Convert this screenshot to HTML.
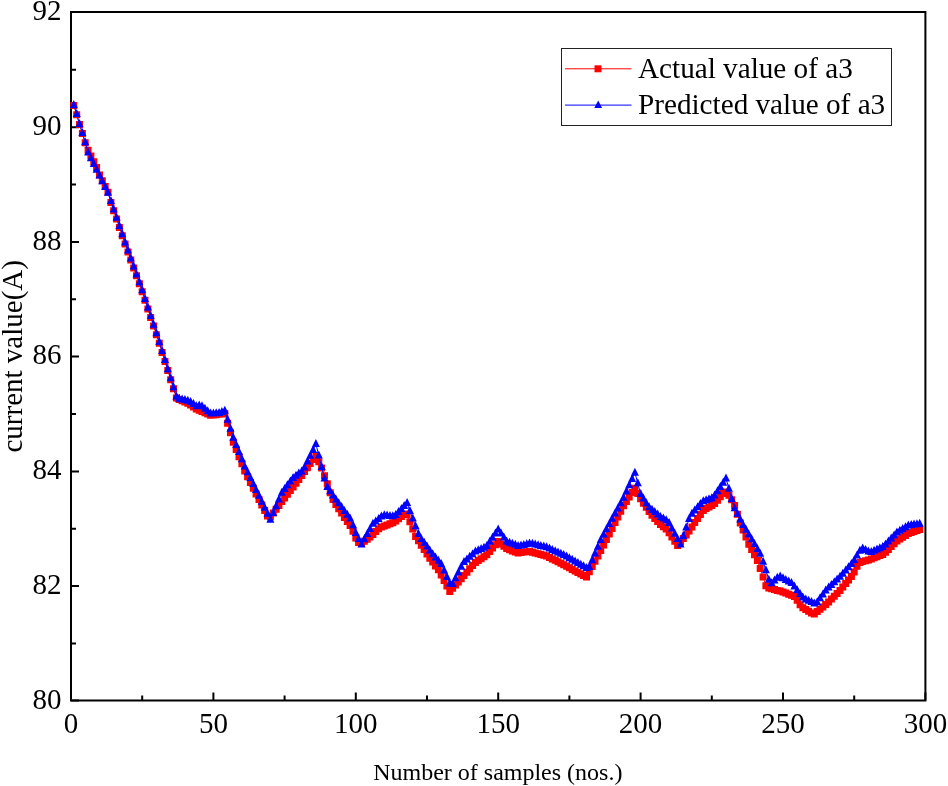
<!DOCTYPE html>
<html lang="en">
<head>
<meta charset="utf-8">
<title>Actual vs predicted value of a3</title>
<style>
html,body{margin:0;padding:0;background:#fff;}
body{width:948px;height:786px;overflow:hidden;}
svg{display:block;}
text{font-family:"Liberation Serif","Times New Roman",serif;fill:#000;}
.tick{font-size:29px;}
.leg{font-size:29.2px;}
.ylab{font-size:29px;}
.xlab{font-size:24px;}
</style>
</head>
<body>
<svg width="948" height="786" viewBox="0 0 948 786">
<rect x="0" y="0" width="948" height="786" fill="#fff"/>
<rect x="71" y="12" width="854.4" height="688.5" fill="none" stroke="#000" stroke-width="2"/>
<path fill="none" stroke="#000" stroke-width="2" d="M71 700.5h8.0M71 643.5h5.0M71 586.1h8.0M71 528.8h5.0M71 471.4h8.0M71 414.0h5.0M71 356.6h8.0M71 299.3h5.0M71 241.9h8.0M71 184.5h5.0M71 127.2h8.0M71 69.8h5.0M71 12.0h8.0M71.0 700.5v-8.0M142.2 700.5v-5.0M213.4 700.5v-8.0M284.6 700.5v-5.0M355.8 700.5v-8.0M427.0 700.5v-5.0M498.2 700.5v-8.0M569.4 700.5v-5.0M640.6 700.5v-8.0M711.8 700.5v-5.0M783.0 700.5v-8.0M854.2 700.5v-5.0M925.4 700.5v-8.0"/>
<polyline fill="none" stroke="#f00" stroke-width="1" points="73.8,105.5 76.7,114.7 79.5,124.5 82.4,133.6 85.2,142.8 88.1,150.3 90.9,156.0 93.8,161.7 96.6,167.5 99.5,174.9 102.3,180.7 105.2,186.4 108.0,192.2 110.9,202.5 113.7,210.8 116.6,219.1 119.4,227.4 122.3,235.8 125.1,244.1 128.0,252.0 130.8,260.0 133.7,267.9 136.5,275.8 139.4,283.8 142.2,291.7 145.0,300.3 147.9,308.9 150.7,317.5 153.6,326.1 156.4,334.7 159.3,343.3 162.1,352.4 165.0,361.5 167.8,370.6 170.7,379.7 173.5,388.8 176.4,398.1 179.2,399.4 182.1,400.7 184.9,402.0 187.8,403.2 190.6,404.9 193.5,407.0 196.3,409.0 199.2,410.3 202.0,411.6 204.9,412.8 207.7,414.1 210.6,415.3 213.4,415.0 216.2,414.7 219.1,414.3 221.9,414.0 224.8,413.6 227.6,423.2 230.5,432.7 233.3,442.3 236.2,449.5 239.0,456.7 241.9,463.8 244.7,471.0 247.6,476.7 250.4,482.5 253.3,488.2 256.1,494.0 259.0,499.5 261.8,505.0 264.7,510.4 267.5,515.9 270.4,516.7 273.2,512.9 276.1,509.2 278.9,505.4 281.8,501.6 284.6,497.9 287.4,494.2 290.3,490.6 293.1,486.9 296.0,483.2 298.8,479.4 301.7,475.5 304.5,471.6 307.4,467.7 310.2,463.6 313.1,459.6 315.9,455.5 318.8,461.8 321.6,468.1 324.5,475.7 327.3,483.8 330.2,492.8 333.0,499.4 335.9,504.5 338.7,508.8 341.6,513.1 344.4,517.4 347.3,521.4 350.1,525.4 353.0,531.3 355.8,537.9 358.6,542.5 361.5,543.4 364.3,541.3 367.2,539.2 370.0,537.0 372.9,534.4 375.7,531.5 378.6,528.7 381.4,527.0 384.3,526.0 387.1,524.9 390.0,523.8 392.8,522.7 395.7,521.1 398.5,518.7 401.4,516.4 404.2,514.0 407.1,514.5 409.9,521.8 412.8,529.1 415.6,536.4 418.5,540.8 421.3,545.2 424.2,549.6 427.0,554.0 429.8,558.2 432.7,562.0 435.5,565.9 438.4,569.7 441.2,575.1 444.1,580.6 446.9,586.0 449.8,591.5 452.6,588.3 455.5,585.1 458.3,582.0 461.2,578.8 464.0,575.6 466.9,572.2 469.7,568.8 472.6,565.5 475.4,562.4 478.3,560.6 481.1,558.7 484.0,556.8 486.8,554.7 489.7,551.4 492.5,548.1 495.4,544.8 498.2,541.6 501.0,543.9 503.9,546.3 506.7,548.6 509.6,549.7 512.4,550.9 515.3,552.0 518.1,553.0 521.0,552.6 523.8,552.1 526.7,551.7 529.5,551.4 532.4,552.2 535.2,552.9 538.1,553.7 540.9,554.4 543.8,555.2 546.6,555.9 549.5,557.4 552.3,558.9 555.2,560.3 558.0,561.8 560.9,563.3 563.7,564.8 566.6,566.3 569.4,567.8 572.2,569.4 575.1,570.9 577.9,572.5 580.8,574.0 583.6,575.6 586.5,577.1 589.3,571.8 592.2,566.5 595.0,561.2 597.9,555.9 600.7,550.4 603.6,544.9 606.4,539.4 609.3,533.9 612.1,528.4 615.0,522.6 617.8,516.9 620.7,511.2 623.5,505.8 626.4,501.4 629.2,497.0 632.1,492.6 634.9,488.2 637.8,493.5 640.6,498.7 643.4,503.3 646.3,507.3 649.1,511.4 652.0,515.2 654.8,518.4 657.7,521.6 660.5,524.4 663.4,526.8 666.2,529.1 669.1,532.7 671.9,537.0 674.8,541.3 677.6,545.6 680.5,542.0 683.3,538.5 686.2,534.9 689.0,531.1 691.9,526.9 694.7,522.6 697.6,518.5 700.4,514.5 703.3,510.4 706.1,508.6 709.0,507.1 711.8,505.5 714.6,503.6 717.5,500.2 720.3,496.8 723.2,493.4 726.0,492.0 728.9,495.2 731.7,499.7 734.6,505.4 737.4,514.3 740.3,522.9 743.1,530.0 746.0,537.1 748.8,544.2 751.7,549.6 754.5,554.7 757.4,560.4 760.2,568.6 763.1,576.9 765.9,585.7 768.8,588.1 771.6,588.8 774.5,589.6 777.3,590.4 780.2,591.1 783.0,592.0 785.8,593.1 788.7,594.2 791.5,595.3 794.4,596.4 797.2,600.2 800.1,604.7 802.9,607.8 805.8,609.6 808.6,611.3 811.5,613.0 814.3,614.0 817.2,611.6 820.0,609.3 822.9,606.9 825.7,604.6 828.6,601.9 831.4,599.1 834.3,596.2 837.1,593.4 840.0,590.6 842.8,587.0 845.7,583.5 848.5,579.9 851.4,576.4 854.2,572.0 857.0,566.2 859.9,562.5 862.7,561.6 865.6,560.7 868.4,559.9 871.3,558.9 874.1,557.8 877.0,556.7 879.8,555.6 882.7,554.5 885.5,552.2 888.4,549.4 891.2,546.6 894.1,543.8 896.9,541.0 899.8,539.1 902.6,537.3 905.5,535.4 908.3,533.5 911.2,532.5 914.0,531.5 916.9,530.5 919.7,529.5"/>
<path fill="#f00" d="M70.3 102.0h7.0v7.0h-7.0zM73.2 111.2h7.0v7.0h-7.0zM76.0 121.0h7.0v7.0h-7.0zM78.9 130.1h7.0v7.0h-7.0zM81.7 139.3h7.0v7.0h-7.0zM84.6 146.8h7.0v7.0h-7.0zM87.4 152.5h7.0v7.0h-7.0zM90.3 158.2h7.0v7.0h-7.0zM93.1 164.0h7.0v7.0h-7.0zM96.0 171.4h7.0v7.0h-7.0zM98.8 177.2h7.0v7.0h-7.0zM101.7 182.9h7.0v7.0h-7.0zM104.5 188.7h7.0v7.0h-7.0zM107.4 199.0h7.0v7.0h-7.0zM110.2 207.3h7.0v7.0h-7.0zM113.1 215.6h7.0v7.0h-7.0zM115.9 223.9h7.0v7.0h-7.0zM118.8 232.3h7.0v7.0h-7.0zM121.6 240.6h7.0v7.0h-7.0zM124.5 248.5h7.0v7.0h-7.0zM127.3 256.5h7.0v7.0h-7.0zM130.2 264.4h7.0v7.0h-7.0zM133.0 272.3h7.0v7.0h-7.0zM135.9 280.3h7.0v7.0h-7.0zM138.7 288.2h7.0v7.0h-7.0zM141.5 296.8h7.0v7.0h-7.0zM144.4 305.4h7.0v7.0h-7.0zM147.2 314.0h7.0v7.0h-7.0zM150.1 322.6h7.0v7.0h-7.0zM152.9 331.2h7.0v7.0h-7.0zM155.8 339.8h7.0v7.0h-7.0zM158.6 348.9h7.0v7.0h-7.0zM161.5 358.0h7.0v7.0h-7.0zM164.3 367.1h7.0v7.0h-7.0zM167.2 376.2h7.0v7.0h-7.0zM170.0 385.3h7.0v7.0h-7.0zM172.9 394.6h7.0v7.0h-7.0zM175.7 395.9h7.0v7.0h-7.0zM178.6 397.2h7.0v7.0h-7.0zM181.4 398.5h7.0v7.0h-7.0zM184.3 399.7h7.0v7.0h-7.0zM187.1 401.4h7.0v7.0h-7.0zM190.0 403.5h7.0v7.0h-7.0zM192.8 405.5h7.0v7.0h-7.0zM195.7 406.8h7.0v7.0h-7.0zM198.5 408.1h7.0v7.0h-7.0zM201.4 409.3h7.0v7.0h-7.0zM204.2 410.6h7.0v7.0h-7.0zM207.1 411.8h7.0v7.0h-7.0zM209.9 411.5h7.0v7.0h-7.0zM212.7 411.2h7.0v7.0h-7.0zM215.6 410.8h7.0v7.0h-7.0zM218.4 410.5h7.0v7.0h-7.0zM221.3 410.1h7.0v7.0h-7.0zM224.1 419.7h7.0v7.0h-7.0zM227.0 429.2h7.0v7.0h-7.0zM229.8 438.8h7.0v7.0h-7.0zM232.7 446.0h7.0v7.0h-7.0zM235.5 453.2h7.0v7.0h-7.0zM238.4 460.3h7.0v7.0h-7.0zM241.2 467.5h7.0v7.0h-7.0zM244.1 473.2h7.0v7.0h-7.0zM246.9 479.0h7.0v7.0h-7.0zM249.8 484.7h7.0v7.0h-7.0zM252.6 490.5h7.0v7.0h-7.0zM255.5 496.0h7.0v7.0h-7.0zM258.3 501.5h7.0v7.0h-7.0zM261.2 506.9h7.0v7.0h-7.0zM264.0 512.4h7.0v7.0h-7.0zM266.9 513.2h7.0v7.0h-7.0zM269.7 509.4h7.0v7.0h-7.0zM272.6 505.7h7.0v7.0h-7.0zM275.4 501.9h7.0v7.0h-7.0zM278.3 498.1h7.0v7.0h-7.0zM281.1 494.4h7.0v7.0h-7.0zM283.9 490.7h7.0v7.0h-7.0zM286.8 487.1h7.0v7.0h-7.0zM289.6 483.4h7.0v7.0h-7.0zM292.5 479.7h7.0v7.0h-7.0zM295.3 475.9h7.0v7.0h-7.0zM298.2 472.0h7.0v7.0h-7.0zM301.0 468.1h7.0v7.0h-7.0zM303.9 464.2h7.0v7.0h-7.0zM306.7 460.1h7.0v7.0h-7.0zM309.6 456.1h7.0v7.0h-7.0zM312.4 452.0h7.0v7.0h-7.0zM315.3 458.3h7.0v7.0h-7.0zM318.1 464.6h7.0v7.0h-7.0zM321.0 472.2h7.0v7.0h-7.0zM323.8 480.3h7.0v7.0h-7.0zM326.7 489.3h7.0v7.0h-7.0zM329.5 495.9h7.0v7.0h-7.0zM332.4 501.0h7.0v7.0h-7.0zM335.2 505.3h7.0v7.0h-7.0zM338.1 509.6h7.0v7.0h-7.0zM340.9 513.9h7.0v7.0h-7.0zM343.8 517.9h7.0v7.0h-7.0zM346.6 521.9h7.0v7.0h-7.0zM349.5 527.8h7.0v7.0h-7.0zM352.3 534.4h7.0v7.0h-7.0zM355.1 539.0h7.0v7.0h-7.0zM358.0 539.9h7.0v7.0h-7.0zM360.8 537.8h7.0v7.0h-7.0zM363.7 535.7h7.0v7.0h-7.0zM366.5 533.5h7.0v7.0h-7.0zM369.4 530.9h7.0v7.0h-7.0zM372.2 528.0h7.0v7.0h-7.0zM375.1 525.2h7.0v7.0h-7.0zM377.9 523.5h7.0v7.0h-7.0zM380.8 522.5h7.0v7.0h-7.0zM383.6 521.4h7.0v7.0h-7.0zM386.5 520.3h7.0v7.0h-7.0zM389.3 519.2h7.0v7.0h-7.0zM392.2 517.6h7.0v7.0h-7.0zM395.0 515.2h7.0v7.0h-7.0zM397.9 512.9h7.0v7.0h-7.0zM400.7 510.5h7.0v7.0h-7.0zM403.6 511.0h7.0v7.0h-7.0zM406.4 518.3h7.0v7.0h-7.0zM409.3 525.6h7.0v7.0h-7.0zM412.1 532.9h7.0v7.0h-7.0zM415.0 537.3h7.0v7.0h-7.0zM417.8 541.7h7.0v7.0h-7.0zM420.7 546.1h7.0v7.0h-7.0zM423.5 550.5h7.0v7.0h-7.0zM426.3 554.7h7.0v7.0h-7.0zM429.2 558.5h7.0v7.0h-7.0zM432.0 562.4h7.0v7.0h-7.0zM434.9 566.2h7.0v7.0h-7.0zM437.7 571.6h7.0v7.0h-7.0zM440.6 577.1h7.0v7.0h-7.0zM443.4 582.5h7.0v7.0h-7.0zM446.3 588.0h7.0v7.0h-7.0zM449.1 584.8h7.0v7.0h-7.0zM452.0 581.6h7.0v7.0h-7.0zM454.8 578.5h7.0v7.0h-7.0zM457.7 575.3h7.0v7.0h-7.0zM460.5 572.1h7.0v7.0h-7.0zM463.4 568.7h7.0v7.0h-7.0zM466.2 565.3h7.0v7.0h-7.0zM469.1 562.0h7.0v7.0h-7.0zM471.9 558.9h7.0v7.0h-7.0zM474.8 557.1h7.0v7.0h-7.0zM477.6 555.2h7.0v7.0h-7.0zM480.5 553.3h7.0v7.0h-7.0zM483.3 551.2h7.0v7.0h-7.0zM486.2 547.9h7.0v7.0h-7.0zM489.0 544.6h7.0v7.0h-7.0zM491.9 541.3h7.0v7.0h-7.0zM494.7 538.1h7.0v7.0h-7.0zM497.5 540.4h7.0v7.0h-7.0zM500.4 542.8h7.0v7.0h-7.0zM503.2 545.1h7.0v7.0h-7.0zM506.1 546.2h7.0v7.0h-7.0zM508.9 547.4h7.0v7.0h-7.0zM511.8 548.5h7.0v7.0h-7.0zM514.6 549.5h7.0v7.0h-7.0zM517.5 549.1h7.0v7.0h-7.0zM520.3 548.6h7.0v7.0h-7.0zM523.2 548.2h7.0v7.0h-7.0zM526.0 547.9h7.0v7.0h-7.0zM528.9 548.7h7.0v7.0h-7.0zM531.7 549.4h7.0v7.0h-7.0zM534.6 550.2h7.0v7.0h-7.0zM537.4 550.9h7.0v7.0h-7.0zM540.3 551.7h7.0v7.0h-7.0zM543.1 552.4h7.0v7.0h-7.0zM546.0 553.9h7.0v7.0h-7.0zM548.8 555.4h7.0v7.0h-7.0zM551.7 556.8h7.0v7.0h-7.0zM554.5 558.3h7.0v7.0h-7.0zM557.4 559.8h7.0v7.0h-7.0zM560.2 561.3h7.0v7.0h-7.0zM563.1 562.8h7.0v7.0h-7.0zM565.9 564.3h7.0v7.0h-7.0zM568.7 565.9h7.0v7.0h-7.0zM571.6 567.4h7.0v7.0h-7.0zM574.4 569.0h7.0v7.0h-7.0zM577.3 570.5h7.0v7.0h-7.0zM580.1 572.1h7.0v7.0h-7.0zM583.0 573.6h7.0v7.0h-7.0zM585.8 568.3h7.0v7.0h-7.0zM588.7 563.0h7.0v7.0h-7.0zM591.5 557.7h7.0v7.0h-7.0zM594.4 552.4h7.0v7.0h-7.0zM597.2 546.9h7.0v7.0h-7.0zM600.1 541.4h7.0v7.0h-7.0zM602.9 535.9h7.0v7.0h-7.0zM605.8 530.4h7.0v7.0h-7.0zM608.6 524.9h7.0v7.0h-7.0zM611.5 519.1h7.0v7.0h-7.0zM614.3 513.4h7.0v7.0h-7.0zM617.2 507.7h7.0v7.0h-7.0zM620.0 502.3h7.0v7.0h-7.0zM622.9 497.9h7.0v7.0h-7.0zM625.7 493.5h7.0v7.0h-7.0zM628.6 489.1h7.0v7.0h-7.0zM631.4 484.7h7.0v7.0h-7.0zM634.3 490.0h7.0v7.0h-7.0zM637.1 495.2h7.0v7.0h-7.0zM639.9 499.8h7.0v7.0h-7.0zM642.8 503.8h7.0v7.0h-7.0zM645.6 507.9h7.0v7.0h-7.0zM648.5 511.7h7.0v7.0h-7.0zM651.3 514.9h7.0v7.0h-7.0zM654.2 518.1h7.0v7.0h-7.0zM657.0 520.9h7.0v7.0h-7.0zM659.9 523.3h7.0v7.0h-7.0zM662.7 525.6h7.0v7.0h-7.0zM665.6 529.2h7.0v7.0h-7.0zM668.4 533.5h7.0v7.0h-7.0zM671.3 537.8h7.0v7.0h-7.0zM674.1 542.1h7.0v7.0h-7.0zM677.0 538.5h7.0v7.0h-7.0zM679.8 535.0h7.0v7.0h-7.0zM682.7 531.4h7.0v7.0h-7.0zM685.5 527.6h7.0v7.0h-7.0zM688.4 523.4h7.0v7.0h-7.0zM691.2 519.1h7.0v7.0h-7.0zM694.1 515.0h7.0v7.0h-7.0zM696.9 511.0h7.0v7.0h-7.0zM699.8 506.9h7.0v7.0h-7.0zM702.6 505.1h7.0v7.0h-7.0zM705.5 503.6h7.0v7.0h-7.0zM708.3 502.0h7.0v7.0h-7.0zM711.1 500.1h7.0v7.0h-7.0zM714.0 496.7h7.0v7.0h-7.0zM716.8 493.3h7.0v7.0h-7.0zM719.7 489.9h7.0v7.0h-7.0zM722.5 488.5h7.0v7.0h-7.0zM725.4 491.7h7.0v7.0h-7.0zM728.2 496.2h7.0v7.0h-7.0zM731.1 501.9h7.0v7.0h-7.0zM733.9 510.8h7.0v7.0h-7.0zM736.8 519.4h7.0v7.0h-7.0zM739.6 526.5h7.0v7.0h-7.0zM742.5 533.6h7.0v7.0h-7.0zM745.3 540.7h7.0v7.0h-7.0zM748.2 546.1h7.0v7.0h-7.0zM751.0 551.2h7.0v7.0h-7.0zM753.9 556.9h7.0v7.0h-7.0zM756.7 565.1h7.0v7.0h-7.0zM759.6 573.4h7.0v7.0h-7.0zM762.4 582.2h7.0v7.0h-7.0zM765.3 584.6h7.0v7.0h-7.0zM768.1 585.3h7.0v7.0h-7.0zM771.0 586.1h7.0v7.0h-7.0zM773.8 586.9h7.0v7.0h-7.0zM776.7 587.6h7.0v7.0h-7.0zM779.5 588.5h7.0v7.0h-7.0zM782.3 589.6h7.0v7.0h-7.0zM785.2 590.7h7.0v7.0h-7.0zM788.0 591.8h7.0v7.0h-7.0zM790.9 592.9h7.0v7.0h-7.0zM793.7 596.7h7.0v7.0h-7.0zM796.6 601.2h7.0v7.0h-7.0zM799.4 604.3h7.0v7.0h-7.0zM802.3 606.1h7.0v7.0h-7.0zM805.1 607.8h7.0v7.0h-7.0zM808.0 609.5h7.0v7.0h-7.0zM810.8 610.5h7.0v7.0h-7.0zM813.7 608.1h7.0v7.0h-7.0zM816.5 605.8h7.0v7.0h-7.0zM819.4 603.4h7.0v7.0h-7.0zM822.2 601.1h7.0v7.0h-7.0zM825.1 598.4h7.0v7.0h-7.0zM827.9 595.6h7.0v7.0h-7.0zM830.8 592.7h7.0v7.0h-7.0zM833.6 589.9h7.0v7.0h-7.0zM836.5 587.1h7.0v7.0h-7.0zM839.3 583.5h7.0v7.0h-7.0zM842.2 580.0h7.0v7.0h-7.0zM845.0 576.4h7.0v7.0h-7.0zM847.9 572.9h7.0v7.0h-7.0zM850.7 568.5h7.0v7.0h-7.0zM853.5 562.7h7.0v7.0h-7.0zM856.4 559.0h7.0v7.0h-7.0zM859.2 558.1h7.0v7.0h-7.0zM862.1 557.2h7.0v7.0h-7.0zM864.9 556.4h7.0v7.0h-7.0zM867.8 555.4h7.0v7.0h-7.0zM870.6 554.3h7.0v7.0h-7.0zM873.5 553.2h7.0v7.0h-7.0zM876.3 552.1h7.0v7.0h-7.0zM879.2 551.0h7.0v7.0h-7.0zM882.0 548.7h7.0v7.0h-7.0zM884.9 545.9h7.0v7.0h-7.0zM887.7 543.1h7.0v7.0h-7.0zM890.6 540.3h7.0v7.0h-7.0zM893.4 537.5h7.0v7.0h-7.0zM896.3 535.6h7.0v7.0h-7.0zM899.1 533.8h7.0v7.0h-7.0zM902.0 531.9h7.0v7.0h-7.0zM904.8 530.0h7.0v7.0h-7.0zM907.7 529.0h7.0v7.0h-7.0zM910.5 528.0h7.0v7.0h-7.0zM913.4 527.0h7.0v7.0h-7.0zM916.2 526.0h7.0v7.0h-7.0z"/>
<polyline fill="none" stroke="#00f" stroke-width="1" points="73.8,104.9 76.7,114.1 79.5,123.9 82.4,133.1 85.2,142.2 88.1,152.6 90.9,158.3 93.8,164.0 96.6,169.8 99.5,175.5 102.3,181.3 105.2,187.0 108.0,192.7 110.9,201.1 113.7,209.4 116.6,217.7 119.4,226.0 122.3,234.3 125.1,242.6 128.0,250.6 130.8,258.5 133.7,266.5 136.5,274.4 139.4,282.3 142.2,290.3 145.0,298.9 147.9,307.5 150.7,316.1 153.6,324.7 156.4,333.3 159.3,341.9 162.1,351.0 165.0,360.1 167.8,369.2 170.7,378.2 173.5,387.3 176.4,396.4 179.2,398.7 182.1,399.4 184.9,400.0 187.8,400.7 190.6,402.0 193.5,404.1 196.3,406.2 199.2,405.4 202.0,406.2 204.9,408.7 207.7,411.2 210.6,413.6 213.4,413.4 216.2,413.2 219.1,413.1 221.9,411.9 224.8,410.8 227.6,419.7 230.5,428.7 233.3,437.7 236.2,444.9 239.0,452.1 241.9,459.2 244.7,466.4 247.6,472.3 250.4,478.1 253.3,484.0 256.1,489.9 259.0,495.8 261.8,501.8 264.7,507.8 267.5,513.8 270.4,519.8 273.2,513.0 276.1,506.3 278.9,499.5 281.8,492.8 284.6,489.1 287.4,485.3 290.3,481.6 293.1,477.9 296.0,475.8 298.8,473.6 301.7,471.5 304.5,467.5 307.4,461.6 310.2,455.8 313.1,449.9 315.9,444.0 318.8,455.5 321.6,467.0 324.5,478.5 327.3,487.0 330.2,491.3 333.0,495.5 335.9,499.5 338.7,503.3 341.6,507.1 344.4,511.0 347.3,514.8 350.1,518.6 353.0,525.2 355.8,532.9 358.6,539.0 361.5,544.4 364.3,539.3 367.2,534.1 370.0,528.9 372.9,523.8 375.7,521.4 378.6,519.0 381.4,516.6 384.3,515.3 387.1,515.6 390.0,515.9 392.8,516.2 395.7,515.1 398.5,512.1 401.4,509.1 404.2,506.1 407.1,503.1 409.9,510.9 412.8,518.6 415.6,526.3 418.5,534.1 421.3,539.1 424.2,542.8 427.0,546.6 429.8,550.4 432.7,554.2 435.5,557.4 438.4,560.7 441.2,563.9 444.1,570.5 446.9,577.1 449.8,583.6 452.6,584.0 455.5,578.3 458.3,572.6 461.2,566.8 464.0,562.0 466.9,559.4 469.7,556.8 472.6,554.2 475.4,551.6 478.3,550.2 481.1,549.0 484.0,547.7 486.8,545.9 489.7,541.8 492.5,537.7 495.4,533.6 498.2,529.5 501.0,533.5 503.9,537.6 506.7,541.6 509.6,542.7 512.4,543.8 515.3,544.8 518.1,545.9 521.0,545.6 523.8,544.9 526.7,544.2 529.5,543.5 532.4,543.8 535.2,544.5 538.1,545.2 540.9,545.9 543.8,546.6 546.6,547.3 549.5,548.6 552.3,549.9 555.2,551.2 558.0,552.5 560.9,553.8 563.7,555.1 566.6,556.6 569.4,558.2 572.2,559.8 575.1,561.5 577.9,563.1 580.8,564.7 583.6,566.3 586.5,568.0 589.3,567.1 592.2,560.3 595.0,553.5 597.9,546.7 600.7,539.9 603.6,534.6 606.4,529.3 609.3,524.0 612.1,518.8 615.0,513.6 617.8,508.5 620.7,503.3 623.5,497.8 626.4,491.5 629.2,485.3 632.1,479.0 634.9,472.7 637.8,483.3 640.6,494.0 643.4,498.6 646.3,503.3 649.1,507.3 652.0,509.7 654.8,512.1 657.7,514.5 660.5,516.9 663.4,518.6 666.2,520.3 669.1,523.1 671.9,528.4 674.8,533.8 677.6,539.1 680.5,544.4 683.3,536.0 686.2,527.6 689.0,519.1 691.9,513.8 694.7,510.5 697.6,507.3 700.4,504.0 703.3,501.2 706.1,500.3 709.0,499.3 711.8,498.3 714.6,495.4 717.5,491.2 720.3,486.9 723.2,482.7 726.0,478.5 728.9,488.7 731.7,498.9 734.6,508.3 737.4,513.8 740.3,519.4 743.1,525.0 746.0,529.8 748.8,534.5 751.7,539.2 754.5,544.0 757.4,548.9 760.2,553.8 763.1,561.7 765.9,570.3 768.8,579.7 771.6,583.2 774.5,580.4 777.3,577.7 780.2,576.6 783.0,578.3 785.8,579.9 788.7,581.5 791.5,583.1 794.4,586.4 797.2,590.2 800.1,593.9 802.9,597.6 805.8,599.4 808.6,600.8 811.5,602.1 814.3,603.4 817.2,602.2 820.0,598.3 822.9,594.4 825.7,590.5 828.6,587.6 831.4,584.9 834.3,582.2 837.1,579.6 840.0,576.8 842.8,573.7 845.7,570.5 848.5,567.3 851.4,564.1 854.2,560.3 857.0,555.5 859.9,550.8 862.7,548.5 865.6,550.0 868.4,551.6 871.3,552.0 874.1,550.8 877.0,549.5 879.8,548.3 882.7,547.1 885.5,544.6 888.4,541.5 891.2,538.5 894.1,535.4 896.9,532.4 899.8,530.7 902.6,528.9 905.5,527.2 908.3,525.5 911.2,525.1 914.0,524.6 916.9,524.2 919.7,523.8"/>
<path fill="#00f" d="M73.8 99.9l4.0 8.0h-8.0zM76.7 109.1l4.0 8.0h-8.0zM79.5 118.9l4.0 8.0h-8.0zM82.4 128.1l4.0 8.0h-8.0zM85.2 137.2l4.0 8.0h-8.0zM88.1 147.6l4.0 8.0h-8.0zM90.9 153.3l4.0 8.0h-8.0zM93.8 159.0l4.0 8.0h-8.0zM96.6 164.8l4.0 8.0h-8.0zM99.5 170.5l4.0 8.0h-8.0zM102.3 176.3l4.0 8.0h-8.0zM105.2 182.0l4.0 8.0h-8.0zM108.0 187.7l4.0 8.0h-8.0zM110.9 196.1l4.0 8.0h-8.0zM113.7 204.4l4.0 8.0h-8.0zM116.6 212.7l4.0 8.0h-8.0zM119.4 221.0l4.0 8.0h-8.0zM122.3 229.3l4.0 8.0h-8.0zM125.1 237.6l4.0 8.0h-8.0zM128.0 245.6l4.0 8.0h-8.0zM130.8 253.5l4.0 8.0h-8.0zM133.7 261.5l4.0 8.0h-8.0zM136.5 269.4l4.0 8.0h-8.0zM139.4 277.3l4.0 8.0h-8.0zM142.2 285.3l4.0 8.0h-8.0zM145.0 293.9l4.0 8.0h-8.0zM147.9 302.5l4.0 8.0h-8.0zM150.7 311.1l4.0 8.0h-8.0zM153.6 319.7l4.0 8.0h-8.0zM156.4 328.3l4.0 8.0h-8.0zM159.3 336.9l4.0 8.0h-8.0zM162.1 346.0l4.0 8.0h-8.0zM165.0 355.1l4.0 8.0h-8.0zM167.8 364.2l4.0 8.0h-8.0zM170.7 373.2l4.0 8.0h-8.0zM173.5 382.3l4.0 8.0h-8.0zM176.4 391.4l4.0 8.0h-8.0zM179.2 393.7l4.0 8.0h-8.0zM182.1 394.4l4.0 8.0h-8.0zM184.9 395.0l4.0 8.0h-8.0zM187.8 395.7l4.0 8.0h-8.0zM190.6 397.0l4.0 8.0h-8.0zM193.5 399.1l4.0 8.0h-8.0zM196.3 401.2l4.0 8.0h-8.0zM199.2 400.4l4.0 8.0h-8.0zM202.0 401.2l4.0 8.0h-8.0zM204.9 403.7l4.0 8.0h-8.0zM207.7 406.2l4.0 8.0h-8.0zM210.6 408.6l4.0 8.0h-8.0zM213.4 408.4l4.0 8.0h-8.0zM216.2 408.2l4.0 8.0h-8.0zM219.1 408.1l4.0 8.0h-8.0zM221.9 406.9l4.0 8.0h-8.0zM224.8 405.8l4.0 8.0h-8.0zM227.6 414.7l4.0 8.0h-8.0zM230.5 423.7l4.0 8.0h-8.0zM233.3 432.7l4.0 8.0h-8.0zM236.2 439.9l4.0 8.0h-8.0zM239.0 447.1l4.0 8.0h-8.0zM241.9 454.2l4.0 8.0h-8.0zM244.7 461.4l4.0 8.0h-8.0zM247.6 467.3l4.0 8.0h-8.0zM250.4 473.1l4.0 8.0h-8.0zM253.3 479.0l4.0 8.0h-8.0zM256.1 484.9l4.0 8.0h-8.0zM259.0 490.8l4.0 8.0h-8.0zM261.8 496.8l4.0 8.0h-8.0zM264.7 502.8l4.0 8.0h-8.0zM267.5 508.8l4.0 8.0h-8.0zM270.4 514.8l4.0 8.0h-8.0zM273.2 508.0l4.0 8.0h-8.0zM276.1 501.3l4.0 8.0h-8.0zM278.9 494.5l4.0 8.0h-8.0zM281.8 487.8l4.0 8.0h-8.0zM284.6 484.1l4.0 8.0h-8.0zM287.4 480.3l4.0 8.0h-8.0zM290.3 476.6l4.0 8.0h-8.0zM293.1 472.9l4.0 8.0h-8.0zM296.0 470.8l4.0 8.0h-8.0zM298.8 468.6l4.0 8.0h-8.0zM301.7 466.5l4.0 8.0h-8.0zM304.5 462.5l4.0 8.0h-8.0zM307.4 456.6l4.0 8.0h-8.0zM310.2 450.8l4.0 8.0h-8.0zM313.1 444.9l4.0 8.0h-8.0zM315.9 439.0l4.0 8.0h-8.0zM318.8 450.5l4.0 8.0h-8.0zM321.6 462.0l4.0 8.0h-8.0zM324.5 473.5l4.0 8.0h-8.0zM327.3 482.0l4.0 8.0h-8.0zM330.2 486.3l4.0 8.0h-8.0zM333.0 490.5l4.0 8.0h-8.0zM335.9 494.5l4.0 8.0h-8.0zM338.7 498.3l4.0 8.0h-8.0zM341.6 502.1l4.0 8.0h-8.0zM344.4 506.0l4.0 8.0h-8.0zM347.3 509.8l4.0 8.0h-8.0zM350.1 513.6l4.0 8.0h-8.0zM353.0 520.2l4.0 8.0h-8.0zM355.8 527.9l4.0 8.0h-8.0zM358.6 534.0l4.0 8.0h-8.0zM361.5 539.4l4.0 8.0h-8.0zM364.3 534.3l4.0 8.0h-8.0zM367.2 529.1l4.0 8.0h-8.0zM370.0 523.9l4.0 8.0h-8.0zM372.9 518.8l4.0 8.0h-8.0zM375.7 516.4l4.0 8.0h-8.0zM378.6 514.0l4.0 8.0h-8.0zM381.4 511.6l4.0 8.0h-8.0zM384.3 510.3l4.0 8.0h-8.0zM387.1 510.6l4.0 8.0h-8.0zM390.0 510.9l4.0 8.0h-8.0zM392.8 511.2l4.0 8.0h-8.0zM395.7 510.1l4.0 8.0h-8.0zM398.5 507.1l4.0 8.0h-8.0zM401.4 504.1l4.0 8.0h-8.0zM404.2 501.1l4.0 8.0h-8.0zM407.1 498.1l4.0 8.0h-8.0zM409.9 505.9l4.0 8.0h-8.0zM412.8 513.6l4.0 8.0h-8.0zM415.6 521.3l4.0 8.0h-8.0zM418.5 529.1l4.0 8.0h-8.0zM421.3 534.1l4.0 8.0h-8.0zM424.2 537.8l4.0 8.0h-8.0zM427.0 541.6l4.0 8.0h-8.0zM429.8 545.4l4.0 8.0h-8.0zM432.7 549.2l4.0 8.0h-8.0zM435.5 552.4l4.0 8.0h-8.0zM438.4 555.7l4.0 8.0h-8.0zM441.2 558.9l4.0 8.0h-8.0zM444.1 565.5l4.0 8.0h-8.0zM446.9 572.1l4.0 8.0h-8.0zM449.8 578.6l4.0 8.0h-8.0zM452.6 579.0l4.0 8.0h-8.0zM455.5 573.3l4.0 8.0h-8.0zM458.3 567.6l4.0 8.0h-8.0zM461.2 561.8l4.0 8.0h-8.0zM464.0 557.0l4.0 8.0h-8.0zM466.9 554.4l4.0 8.0h-8.0zM469.7 551.8l4.0 8.0h-8.0zM472.6 549.2l4.0 8.0h-8.0zM475.4 546.6l4.0 8.0h-8.0zM478.3 545.2l4.0 8.0h-8.0zM481.1 544.0l4.0 8.0h-8.0zM484.0 542.7l4.0 8.0h-8.0zM486.8 540.9l4.0 8.0h-8.0zM489.7 536.8l4.0 8.0h-8.0zM492.5 532.7l4.0 8.0h-8.0zM495.4 528.6l4.0 8.0h-8.0zM498.2 524.5l4.0 8.0h-8.0zM501.0 528.5l4.0 8.0h-8.0zM503.9 532.6l4.0 8.0h-8.0zM506.7 536.6l4.0 8.0h-8.0zM509.6 537.7l4.0 8.0h-8.0zM512.4 538.8l4.0 8.0h-8.0zM515.3 539.8l4.0 8.0h-8.0zM518.1 540.9l4.0 8.0h-8.0zM521.0 540.6l4.0 8.0h-8.0zM523.8 539.9l4.0 8.0h-8.0zM526.7 539.2l4.0 8.0h-8.0zM529.5 538.5l4.0 8.0h-8.0zM532.4 538.8l4.0 8.0h-8.0zM535.2 539.5l4.0 8.0h-8.0zM538.1 540.2l4.0 8.0h-8.0zM540.9 540.9l4.0 8.0h-8.0zM543.8 541.6l4.0 8.0h-8.0zM546.6 542.3l4.0 8.0h-8.0zM549.5 543.6l4.0 8.0h-8.0zM552.3 544.9l4.0 8.0h-8.0zM555.2 546.2l4.0 8.0h-8.0zM558.0 547.5l4.0 8.0h-8.0zM560.9 548.8l4.0 8.0h-8.0zM563.7 550.1l4.0 8.0h-8.0zM566.6 551.6l4.0 8.0h-8.0zM569.4 553.2l4.0 8.0h-8.0zM572.2 554.8l4.0 8.0h-8.0zM575.1 556.5l4.0 8.0h-8.0zM577.9 558.1l4.0 8.0h-8.0zM580.8 559.7l4.0 8.0h-8.0zM583.6 561.3l4.0 8.0h-8.0zM586.5 563.0l4.0 8.0h-8.0zM589.3 562.1l4.0 8.0h-8.0zM592.2 555.3l4.0 8.0h-8.0zM595.0 548.5l4.0 8.0h-8.0zM597.9 541.7l4.0 8.0h-8.0zM600.7 534.9l4.0 8.0h-8.0zM603.6 529.6l4.0 8.0h-8.0zM606.4 524.3l4.0 8.0h-8.0zM609.3 519.0l4.0 8.0h-8.0zM612.1 513.8l4.0 8.0h-8.0zM615.0 508.6l4.0 8.0h-8.0zM617.8 503.5l4.0 8.0h-8.0zM620.7 498.3l4.0 8.0h-8.0zM623.5 492.8l4.0 8.0h-8.0zM626.4 486.5l4.0 8.0h-8.0zM629.2 480.3l4.0 8.0h-8.0zM632.1 474.0l4.0 8.0h-8.0zM634.9 467.7l4.0 8.0h-8.0zM637.8 478.3l4.0 8.0h-8.0zM640.6 489.0l4.0 8.0h-8.0zM643.4 493.6l4.0 8.0h-8.0zM646.3 498.3l4.0 8.0h-8.0zM649.1 502.3l4.0 8.0h-8.0zM652.0 504.7l4.0 8.0h-8.0zM654.8 507.1l4.0 8.0h-8.0zM657.7 509.5l4.0 8.0h-8.0zM660.5 511.9l4.0 8.0h-8.0zM663.4 513.6l4.0 8.0h-8.0zM666.2 515.3l4.0 8.0h-8.0zM669.1 518.1l4.0 8.0h-8.0zM671.9 523.4l4.0 8.0h-8.0zM674.8 528.8l4.0 8.0h-8.0zM677.6 534.1l4.0 8.0h-8.0zM680.5 539.4l4.0 8.0h-8.0zM683.3 531.0l4.0 8.0h-8.0zM686.2 522.6l4.0 8.0h-8.0zM689.0 514.1l4.0 8.0h-8.0zM691.9 508.8l4.0 8.0h-8.0zM694.7 505.5l4.0 8.0h-8.0zM697.6 502.3l4.0 8.0h-8.0zM700.4 499.0l4.0 8.0h-8.0zM703.3 496.2l4.0 8.0h-8.0zM706.1 495.3l4.0 8.0h-8.0zM709.0 494.3l4.0 8.0h-8.0zM711.8 493.3l4.0 8.0h-8.0zM714.6 490.4l4.0 8.0h-8.0zM717.5 486.2l4.0 8.0h-8.0zM720.3 481.9l4.0 8.0h-8.0zM723.2 477.7l4.0 8.0h-8.0zM726.0 473.5l4.0 8.0h-8.0zM728.9 483.7l4.0 8.0h-8.0zM731.7 493.9l4.0 8.0h-8.0zM734.6 503.3l4.0 8.0h-8.0zM737.4 508.8l4.0 8.0h-8.0zM740.3 514.4l4.0 8.0h-8.0zM743.1 520.0l4.0 8.0h-8.0zM746.0 524.8l4.0 8.0h-8.0zM748.8 529.5l4.0 8.0h-8.0zM751.7 534.2l4.0 8.0h-8.0zM754.5 539.0l4.0 8.0h-8.0zM757.4 543.9l4.0 8.0h-8.0zM760.2 548.8l4.0 8.0h-8.0zM763.1 556.7l4.0 8.0h-8.0zM765.9 565.3l4.0 8.0h-8.0zM768.8 574.7l4.0 8.0h-8.0zM771.6 578.2l4.0 8.0h-8.0zM774.5 575.4l4.0 8.0h-8.0zM777.3 572.7l4.0 8.0h-8.0zM780.2 571.6l4.0 8.0h-8.0zM783.0 573.3l4.0 8.0h-8.0zM785.8 574.9l4.0 8.0h-8.0zM788.7 576.5l4.0 8.0h-8.0zM791.5 578.1l4.0 8.0h-8.0zM794.4 581.4l4.0 8.0h-8.0zM797.2 585.2l4.0 8.0h-8.0zM800.1 588.9l4.0 8.0h-8.0zM802.9 592.6l4.0 8.0h-8.0zM805.8 594.4l4.0 8.0h-8.0zM808.6 595.8l4.0 8.0h-8.0zM811.5 597.1l4.0 8.0h-8.0zM814.3 598.4l4.0 8.0h-8.0zM817.2 597.2l4.0 8.0h-8.0zM820.0 593.3l4.0 8.0h-8.0zM822.9 589.4l4.0 8.0h-8.0zM825.7 585.5l4.0 8.0h-8.0zM828.6 582.6l4.0 8.0h-8.0zM831.4 579.9l4.0 8.0h-8.0zM834.3 577.2l4.0 8.0h-8.0zM837.1 574.6l4.0 8.0h-8.0zM840.0 571.8l4.0 8.0h-8.0zM842.8 568.7l4.0 8.0h-8.0zM845.7 565.5l4.0 8.0h-8.0zM848.5 562.3l4.0 8.0h-8.0zM851.4 559.1l4.0 8.0h-8.0zM854.2 555.3l4.0 8.0h-8.0zM857.0 550.5l4.0 8.0h-8.0zM859.9 545.8l4.0 8.0h-8.0zM862.7 543.5l4.0 8.0h-8.0zM865.6 545.0l4.0 8.0h-8.0zM868.4 546.6l4.0 8.0h-8.0zM871.3 547.0l4.0 8.0h-8.0zM874.1 545.8l4.0 8.0h-8.0zM877.0 544.5l4.0 8.0h-8.0zM879.8 543.3l4.0 8.0h-8.0zM882.7 542.1l4.0 8.0h-8.0zM885.5 539.6l4.0 8.0h-8.0zM888.4 536.5l4.0 8.0h-8.0zM891.2 533.5l4.0 8.0h-8.0zM894.1 530.4l4.0 8.0h-8.0zM896.9 527.4l4.0 8.0h-8.0zM899.8 525.7l4.0 8.0h-8.0zM902.6 523.9l4.0 8.0h-8.0zM905.5 522.2l4.0 8.0h-8.0zM908.3 520.5l4.0 8.0h-8.0zM911.2 520.1l4.0 8.0h-8.0zM914.0 519.6l4.0 8.0h-8.0zM916.9 519.2l4.0 8.0h-8.0zM919.7 518.8l4.0 8.0h-8.0z"/>
<text class="tick" x="61.6" y="708.7" text-anchor="end">80</text>
<text class="tick" x="61.6" y="594.0" text-anchor="end">82</text>
<text class="tick" x="61.6" y="479.2" text-anchor="end">84</text>
<text class="tick" x="61.6" y="364.4" text-anchor="end">86</text>
<text class="tick" x="61.6" y="249.7" text-anchor="end">88</text>
<text class="tick" x="61.6" y="134.9" text-anchor="end">90</text>
<text class="tick" x="61.6" y="20.2" text-anchor="end">92</text>
<text class="tick" x="71.0" y="733" text-anchor="middle">0</text>
<text class="tick" x="213.4" y="733" text-anchor="middle">50</text>
<text class="tick" x="355.8" y="733" text-anchor="middle">100</text>
<text class="tick" x="498.2" y="733" text-anchor="middle">150</text>
<text class="tick" x="640.6" y="733" text-anchor="middle">200</text>
<text class="tick" x="783.0" y="733" text-anchor="middle">250</text>
<text class="tick" x="925.4" y="733" text-anchor="middle">300</text>
<text class="ylab" transform="translate(22 356.3) rotate(-90)" text-anchor="middle">current value(A)</text>
<text class="xlab" x="497.8" y="780.2" text-anchor="middle">Number of samples (nos.)</text>
<rect x="561.5" y="48.5" width="330" height="77" fill="#fff" stroke="#222" stroke-width="1"/>
<path d="M565 68.8H631.5" stroke="#f00" stroke-width="1" fill="none"/>
<rect x="594.5" y="65.3" width="7" height="7" fill="#f00"/>
<path d="M565 105.1H631.5" stroke="#00f" stroke-width="1" fill="none"/>
<path d="M598.2 100.6l3.9 7.4h-7.8z" fill="#00f"/>
<text class="leg" x="638" y="78">Actual value of a3</text>
<text class="leg" x="638" y="114">Predicted value of a3</text>
</svg>
</body>
</html>
